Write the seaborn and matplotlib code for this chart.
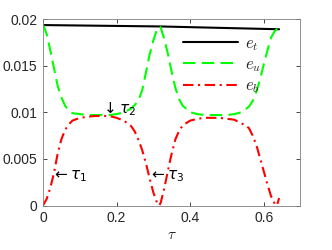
import numpy as np
import pandas as pd
import seaborn as sns
from matplotlib import pyplot as plt
from matplotlib.font_manager import FontProperties

# values
tau = [0, 0.01, 0.02, 0.03, 0.04, 0.05, 0.06, 0.07, 0.08, 0.10, 0.12, 0.14, 0.16, 0.18,
       0.20, 0.22, 0.24, 0.25, 0.26, 0.27, 0.28, 0.29, 0.30, 0.31, 0.316, 0.32, 0.33, 0.34,
       0.35, 0.36, 0.37, 0.38, 0.40, 0.42, 0.44, 0.46, 0.48, 0.50, 0.52, 0.54, 0.55, 0.56,
       0.57, 0.58, 0.59, 0.60, 0.61, 0.62, 0.63, 0.636, 0.642]
e_u = [0.0194, 0.0184, 0.0166, 0.0147, 0.0128, 0.0116, 0.0107, 0.0102, 0.0099, 0.0098,
       0.0097, 0.0097, 0.0097, 0.0097, 0.0098, 0.0100, 0.0104, 0.0108, 0.0113, 0.0124,
       0.0143, 0.0162, 0.0177, 0.0189, 0.0192, 0.0191, 0.0178, 0.0162, 0.0143, 0.0126,
       0.0114, 0.0107, 0.0100, 0.0098, 0.0097, 0.0097, 0.0097, 0.0097, 0.0098, 0.0100,
       0.0103, 0.0106, 0.0112, 0.0122, 0.0135, 0.0151, 0.0166, 0.0180, 0.0187, 0.0189,
       0.0184]
e_b = [0, 0.0007, 0.0019, 0.0035, 0.0056, 0.0071, 0.0081, 0.0087, 0.0091, 0.0094,
       0.0095, 0.0096, 0.0096, 0.0096, 0.0094, 0.0091, 0.0085, 0.0079, 0.0070, 0.0059,
       0.0045, 0.0029, 0.0014, 0.0003, 0.0, 0.0003, 0.0019, 0.0038, 0.0056, 0.0071,
       0.0080, 0.0086, 0.0091, 0.0093, 0.0094, 0.0094, 0.0094, 0.0093, 0.0092, 0.0088,
       0.0086, 0.0083, 0.0075, 0.0065, 0.0051, 0.0037, 0.0023, 0.0010, 0.0002, 0.0,
       0.0008]
tau_t = [0, 0.32, 0.642]
e_t = [0.01935, 0.0192, 0.0189]

x_ticks = [0, 0.2, 0.4, 0.6]
x_labels = ['0', '0.2', '0.4', '0.6']
y_ticks = [0, 0.005, 0.01, 0.015, 0.02]
y_labels = ['0', '0.005', '0.01', '0.015', '0.02']

sns.set_style('ticks')
plt.rcParams['font.family'] = ['Liberation Sans', 'DejaVu Sans']
plt.rcParams['mathtext.fontset'] = 'dejavusans'

axis_color = '#262626'
fig = plt.figure(figsize=(3.32, 2.5), dpi=100)
ax = fig.add_axes([0.1295, 0.178, 0.7755, 0.746])

sns.lineplot(x=tau_t, y=e_t, ax=ax, color='black', lw=1.5, label=r'$e_t$')
sns.lineplot(x=tau, y=e_u, ax=ax, color='#00ff00', lw=1.5, label=r'$e_u$')
ax.lines[-1].set_dashes([6, 3])
sns.lineplot(x=tau, y=e_b, ax=ax, color='#ff0000', lw=1.5, label=r'$e_b$')
ax.lines[-1].set_dashes([5, 2.2, 1, 2.2])

ax.set_xlim(0, 0.7)
ax.set_ylim(0, 0.02)
ax.set_xticks(x_ticks, x_labels)
ax.set_yticks(y_ticks, y_labels)
ax.tick_params(direction='in', length=3, width=0.6, top=True, right=True,
               labelsize=10, colors=axis_color, pad=4)
for s in ax.spines.values():
    s.set_visible(True)
    s.set_linewidth(0.6)
    s.set_color('#808080')

ax.set_xlabel(r'$\tau$', fontsize=11, math_fontfamily='cm', color=axis_color, labelpad=2)
ax.set_ylabel('')

leg = ax.legend(loc='upper left', bbox_to_anchor=(0.545, 0.91), frameon=False,
                prop=FontProperties(size=12, math_fontfamily='cm'),
                handlelength=3.3, handletextpad=0.4, labelspacing=0.27,
                borderpad=0, borderaxespad=0)

txt = dict(fontsize=11, color='black', va='center', ha='left')
ax.text(0.024, 0.0031, r'$\leftarrow\tau_1$', **txt)
ax.text(0.157, 0.0103, r'$\downarrow\tau_2$', **txt)
ax.text(0.288, 0.0031, r'$\leftarrow\tau_3$', **txt)

fig.savefig('out.png', dpi=100)
